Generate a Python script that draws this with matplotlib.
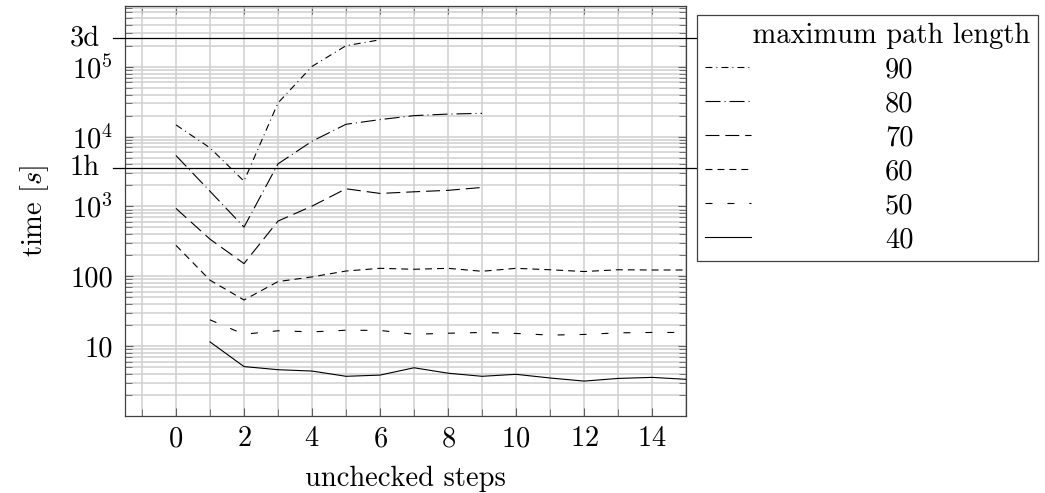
import numpy as np
import matplotlib
matplotlib.use('Agg')
import matplotlib.pyplot as plt
import matplotlib.ticker as mticker
import matplotlib.transforms as mtrans

plt.rcParams['font.family'] = 'serif'
plt.rcParams['font.serif'] = ['cmr10']
plt.rcParams['mathtext.fontset'] = 'cm'
plt.rcParams['axes.formatter.use_mathtext'] = True
plt.rcParams['lines.scale_dashes'] = False

# data
steps_90 = [0, 1, 2, 3, 4, 5, 6]
time_90 = [14700, 6900, 2300, 30300, 101000, 200000, 243000]
steps_80 = [0, 1, 2, 3, 4, 5, 6, 7, 8, 9]
time_80 = [5350, 1650, 506, 4070, 8570, 15000, 17500, 19950, 21000, 21500]
steps_70 = [0, 1, 2, 3, 4, 5, 6, 7, 8, 9]
time_70 = [936, 340, 152, 617, 1010, 1790, 1535, 1620, 1700, 1870]
steps_60 = list(range(0, 16))
time_60 = [277, 88, 45.8, 84, 98, 119, 130, 126, 130, 118, 130, 124, 117, 124, 123, 123]
steps_50 = list(range(1, 16))
time_50 = [23.8, 14.8, 16.6, 16, 16.9, 16.8, 14.8, 15.3, 15.7, 15.2, 14.4, 14.7, 15.5, 15.7, 15.7]
steps_40 = list(range(1, 16))
time_40 = [11.5, 5.1, 4.6, 4.4, 3.7, 3.85, 4.9, 4.1, 3.7, 3.95, 3.5, 3.16, 3.45, 3.57, 3.35]

path_lengths = ['90', '80', '70', '60', '50', '40']
marker_values = [259200, 3600]
marker_labels = ['3d', '1h']

series = [
    (steps_90, time_90, (0, (5, 2.9, 0.7, 2.9))),
    (steps_80, time_80, (0, (10.8, 2.9, 0.7, 2.9))),
    (steps_70, time_70, (0, (10, 4.3))),
    (steps_60, time_60, (0, (5, 3.6))),
    (steps_50, time_50, (0, (5, 10.8))),
    (steps_40, time_40, '-'),
]

FS = 20.5

fig = plt.figure(figsize=(10.45, 4.93), dpi=100)
ax = fig.add_axes([0.1196, 0.1562, 0.5369, 0.8316])

handles = []
for (xs, ys, ls), name in zip(series, path_lengths):
    h, = ax.plot(xs, ys, color='black', linewidth=0.8, linestyle=ls, label=name, zorder=3)
    handles.append(h)

ax.set_yscale('log')
ax.set_xlim(-1.5, 15)
ax.set_ylim(1, 7.4e5)

ax.xaxis.set_major_locator(mticker.MultipleLocator(2))
ax.xaxis.set_minor_locator(mticker.MultipleLocator(1))
ax.set_yticks([10, 100, 1e3, 1e4, 1e5])
ax.set_yticklabels(['10', '100', '$10^3$', '$10^4$', '$10^5$'])
ax.yaxis.set_minor_locator(mticker.LogLocator(base=10, subs=np.arange(2, 10)))
ax.yaxis.set_minor_formatter(mticker.NullFormatter())

ax.grid(True, which='both', color='#d0d0d0', linewidth=1.1, zorder=0)
ax.set_axisbelow(True)
ax.tick_params(which='both', direction='in', top=True, right=True, color='#606060',
               labelsize=FS)
ax.tick_params(axis='y', pad=8.6)
ax.tick_params(axis='x', pad=7)
ax.tick_params(which='major', length=5.5)
ax.tick_params(which='minor', length=5)
for s in ax.spines.values():
    s.set_color('#404040')
    s.set_linewidth(0.9)

trans = mtrans.blended_transform_factory(ax.transAxes, ax.transData)
for val, lab in zip(marker_values, marker_labels):
    ax.plot([-0.022, 1.02], [val, val], color='black', linewidth=0.9,
            transform=trans, clip_on=False, zorder=4)
    ax.text(-0.045, val, lab, transform=trans, ha='right', va='center', fontsize=FS)

ax.set_xlabel('unchecked steps', fontsize=FS, labelpad=10)
ax.set_ylabel('time [$s$]', fontsize=FS, labelpad=14)

leg = fig.legend(handles=handles, labels=path_lengths, title='     maximum path length',
                 loc='upper left', bbox_to_anchor=(697 / 1045, 1 - 15 / 493),
                 borderaxespad=0, fontsize=FS, title_fontsize=FS, alignment='left',
                 handlelength=1.6, handletextpad=4.72, labelspacing=0.27,
                 borderpad=0.28, fancybox=False, edgecolor='#404040', framealpha=1)
leg.get_frame().set_linewidth(0.9)

fig.savefig('out.png', dpi=100)
